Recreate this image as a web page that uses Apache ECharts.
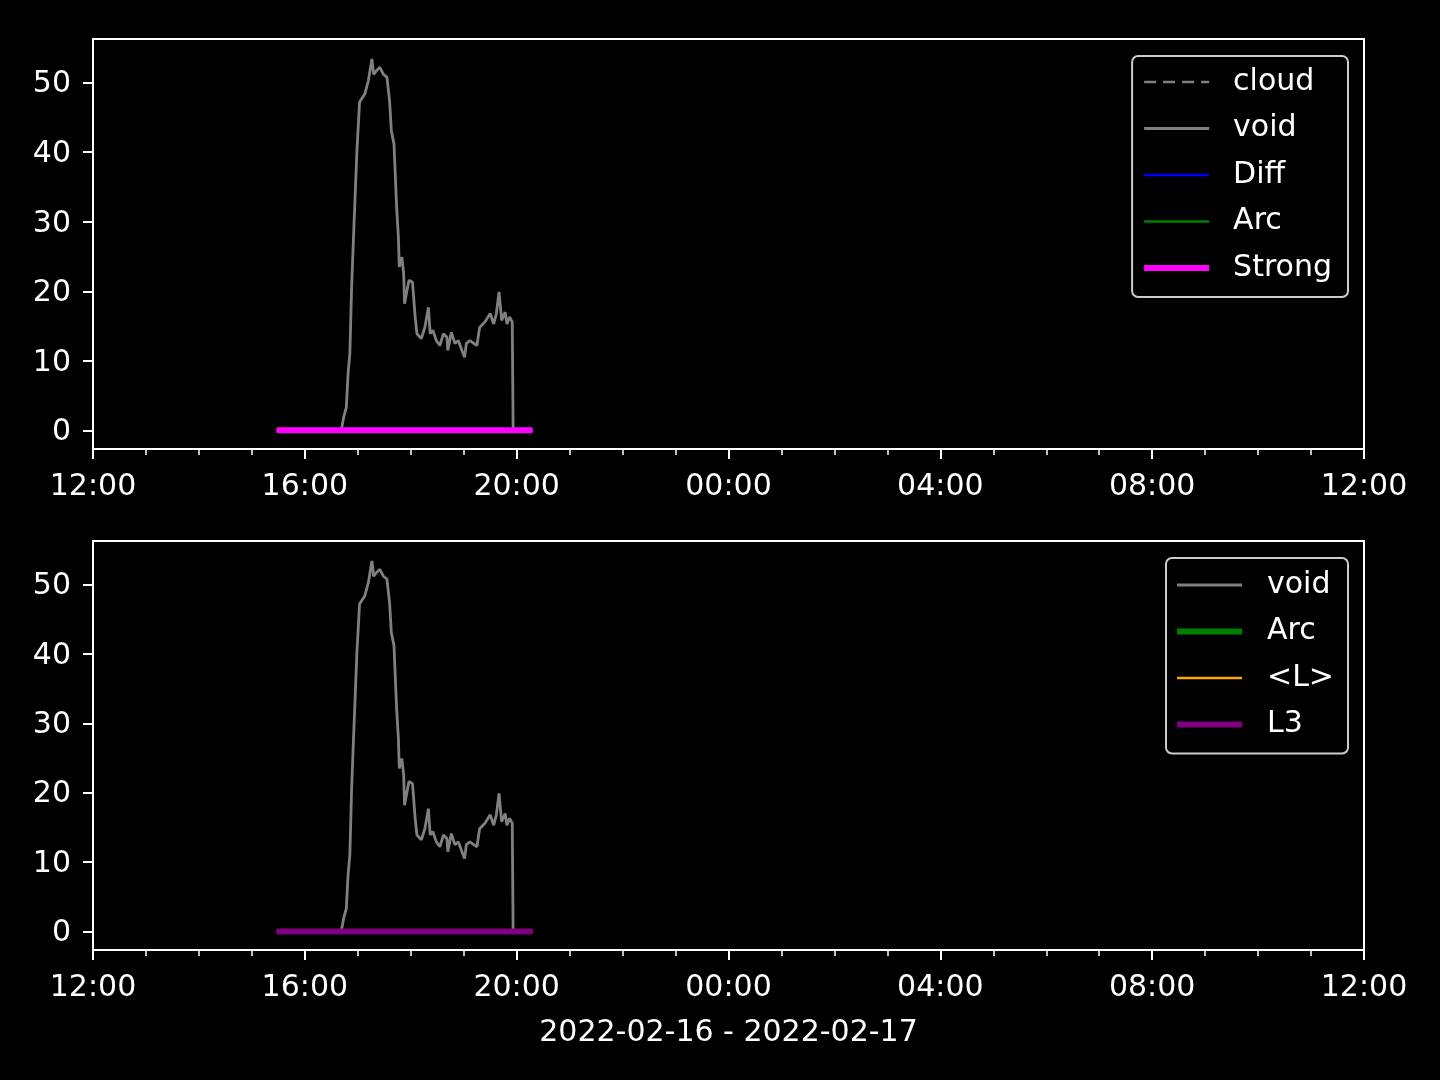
<!DOCTYPE html>
<html>
<head>
<meta charset="utf-8">
<script src="https://cdn.jsdelivr.net/npm/echarts@6/dist/echarts.min.js"></script>
<style>
html,body{margin:0;padding:0;background:#000;}
#chart{width:1440px;height:1080px;}
</style>
</head>
<body>
<div id="chart"></div>
<script>
// ---- data (times on 2022-02-16) ----
const voidTimes = ["15:28","16:40","16:42","16:44","16:47","16:49","16:51","16:53","16:55","16:59","17:02","17:08","17:12","17:16","17:18","17:21","17:25","17:29","17:33","17:36","17:38","17:41","17:44","17:46","17:47","17:50","17:52","17:53","17:55","17:58","18:02","18:05","18:07","18:12","18:16","18:20","18:22","18:25","18:29","18:33","18:37","18:41","18:42","18:46","18:50","18:54","18:58","19:01","19:03","19:07","19:15","19:18","19:24","19:30","19:34","19:37","19:40","19:43","19:47","19:49","19:52","19:55","19:56","20:18"];
const voidValues = [0,0,0.5,1.9,3.3,8.2,11,20.6,27.3,40.2,47.2,48.4,50.3,53.4,51.2,51.7,52.2,51.2,50.8,47.4,43.1,41.2,32.1,27.8,23.5,24.9,22.5,18.2,19.6,21.6,21.3,16.3,13.9,13.2,14.8,17.7,13.9,14.4,12.9,12.2,13.9,13.4,11.5,14.1,12.5,12.9,11.5,10.5,12.5,12.9,12.2,14.8,15.6,16.8,15.3,16.8,19.9,15.8,17.0,15.3,16.3,15.6,0,0];
const strongTimes = ["15:28","20:18"];
const strongValues = [0,0];
const l3Times = ["15:28","20:18"];
const l3Values = [0,0];
const yTicks = [0,10,20,30,40,50];
const topLegend = ["cloud","void","Diff","Arc","Strong"];
const bottomLegend = ["void","Arc","<L>","L3"];
const xLabel = "2022-02-16 - 2022-02-17";

// hours since 2022-02-16 12:00
function toH(t){ const p=t.split(":"); return +p[0] + (+p[1])/60 - 12; }
function pairs(ts, vs){ return ts.map((t,i)=>[toH(t), vs[i]]); }

const FONT = "DejaVu Sans";
const FS = 30;

function xAxis(gi, withName){
  const a = {
    type:'value', gridIndex:gi, min:0, max:24, interval:4,
    axisLine:{show:true, onZero:false, lineStyle:{color:'#fff', width:2}},
    axisTick:{show:true, length:10, lineStyle:{color:'#fff', width:2}},
    minorTick:{show:true, splitNumber:4, length:6, lineStyle:{color:'#fff', width:1.5}},
    splitLine:{show:false}, minorSplitLine:{show:false},
    axisLabel:{color:'#fff', fontFamily:FONT, fontSize:FS, margin:23,
      formatter:v=>{ const h=(12+Math.round(v))%24; return (h<10?'0':'')+h+':00'; }}
  };
  if(withName){
    a.name = xLabel; a.nameLocation='middle'; a.nameGap=68;
    a.nameTextStyle={color:'#fff', fontFamily:FONT, fontSize:FS};
  }
  return a;
}
function yAxis(gi){
  return {
    type:'value', gridIndex:gi, min:-2.68, max:56.28,
    axisLine:{show:true, onZero:false, lineStyle:{color:'#fff', width:2}},
    axisTick:{show:true, length:10, customValues:yTicks, lineStyle:{color:'#fff', width:2}},
    splitLine:{show:false},
    axisLabel:{color:'#fff', fontFamily:FONT, fontSize:FS, margin:22, lineHeight:30,
      verticalAlign:'top', padding:[-13,0,0,0], customValues:yTicks}
  };
}
function line(name, gi, data, color, width, type, z){
  return {name:name, type:'line', xAxisIndex:gi, yAxisIndex:gi, data:data,
    symbol:'none', showSymbol:false, animation:false, z:z||2,
    lineStyle:{color:color, width:width, type:type||'solid'}, itemStyle:{color:color}};
}
const legendCommon = {
  orient:'vertical', right:92, itemWidth:65, itemHeight:30, itemGap:16.5,
  selectedMode:false, backgroundColor:'rgba(0,0,0,0.8)', borderColor:'#cccccc', borderWidth:2, borderRadius:6,
  lineStyle:{width:'inherit'}, itemStyle:{opacity:0},
  textStyle:{color:'#fff', fontFamily:FONT, fontSize:FS, lineHeight:30}
};
const nameMap = {"void2":"void","Arc2":"Arc"};

const chart = echarts.init(document.getElementById('chart'), null, {renderer:'canvas'});
chart.setOption({
  backgroundColor:'#000',
  animation:false,
  grid:[
    {left:93, top:39, width:1271, height:410, show:true, borderColor:'#fff', borderWidth:2, backgroundColor:'#000'},
    {left:93, top:541, width:1271, height:409, show:true, borderColor:'#fff', borderWidth:2, backgroundColor:'#000'}
  ],
  xAxis:[xAxis(0,false), xAxis(1,true)],
  yAxis:[yAxis(0), yAxis(1)],
  legend:[
    Object.assign({}, legendCommon, {top:56, padding:[11,16,14,9], data:topLegend,
      textStyle:Object.assign({}, legendCommon.textStyle, {padding:[0,0,0,19]})}),
    Object.assign({}, legendCommon, {top:558, padding:[12,14,14,8],
      data:bottomLegend.map(n=>n==="void"?"void2":(n==="Arc"?"Arc2":n)),
      textStyle:Object.assign({}, legendCommon.textStyle, {padding:[0,0,0,20]}),
      formatter:n=>nameMap[n]||n})
  ],
  series:[
    line('cloud',0,[], '#808080', 2.5, [12,7]),
    line('void',0,pairs(voidTimes,voidValues), '#808080', 2.8),
    line('Diff',0,[], '#0000ff', 2.5),
    line('Arc',0,[], '#008000', 2.5),
    line('Strong',0,pairs(strongTimes,strongValues), '#ff00ff', 6, 'solid', 3),
    line('void2',1,pairs(voidTimes,voidValues), '#808080', 2.8),
    line('Arc2',1,[], '#008000', 6),
    line('<L>',1,[], '#ffa500', 2.5),
    line('L3',1,pairs(l3Times,l3Values), '#800080', 6, 'solid', 3)
  ]
});
</script>
</body>
</html>
